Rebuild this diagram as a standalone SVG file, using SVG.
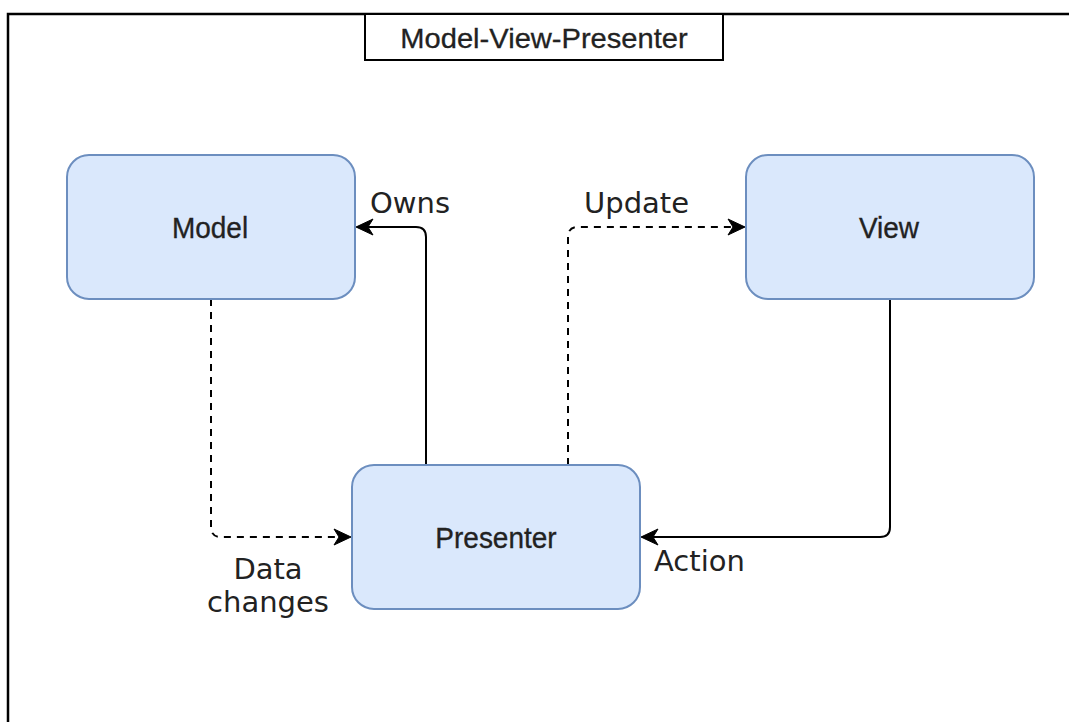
<svg xmlns="http://www.w3.org/2000/svg" width="1069" height="722" viewBox="0 0 1069 722">
<style>
.node{fill:#dae8fc;stroke:#6c8ebf;stroke-width:2}
.nt{font-family:"Liberation Sans",Arial,sans-serif;font-size:28px;fill:#222;text-anchor:middle;stroke:#222;stroke-width:0.3}
.lbl{font-family:"DejaVu Sans",sans-serif;font-size:29px;fill:#222}
.edge{fill:none;stroke:#000;stroke-width:2}
.dash{stroke-dasharray:7 6}
</style>
<defs>
<marker id="arr" markerUnits="userSpaceOnUse" markerWidth="22" markerHeight="22" refX="18" refY="11" orient="auto">
<path d="M2,3 L19,11 L2,19 L7,11 Z" fill="#000" stroke="#000" stroke-width="1"/>
</marker>
</defs>
<rect x="0" y="0" width="1069" height="722" fill="#fff"/>
<g id="frame">
<path d="M8,722 V14 H1069" fill="none" stroke="#000" stroke-width="2.5"/>
</g>
<g id="title">
<rect x="365" y="14" width="358" height="46" fill="#fff" stroke="#000" stroke-width="2"/>
<text class="nt" transform="translate(544,48) scale(1.04,1)" x="0" y="0">Model-View-Presenter</text>
</g>
<g id="connectors">
<path class="edge" d="M426,465 V237 Q426,227 416,227 H357" marker-end="url(#arr)"/>
<path class="edge dash" d="M568,465 V237 Q568,227 578,227 H744" marker-end="url(#arr)"/>
<path class="edge dash" d="M211,299 V527 Q211,537 221,537 H350" marker-end="url(#arr)"/>
<path class="edge" d="M890,299 V527 Q890,537 880,537 H642" marker-end="url(#arr)"/>
<text class="lbl" x="370" y="213">Owns</text>
<text class="lbl" x="584" y="213">Update</text>
<text class="lbl" x="654" y="571">Action</text>
<text class="lbl" x="268" y="579" text-anchor="middle">Data</text>
<text class="lbl" x="268" y="612" text-anchor="middle">changes</text>
</g>
<g id="model">
<rect class="node" x="67" y="155" width="288" height="144" rx="22"/>
<text class="nt" transform="translate(210,238) scale(1,1.08)" x="0" y="0">Model</text>
</g>
<g id="view">
<rect class="node" x="746" y="155" width="288" height="144" rx="22"/>
<text class="nt" transform="translate(889,238) scale(1,1.08)" x="0" y="0">View</text>
</g>
<g id="presenter">
<rect class="node" x="352" y="465" width="288" height="144" rx="22"/>
<text class="nt" transform="translate(496,548) scale(1,1.08)" x="0" y="0">Presenter</text>
</g>
</svg>
